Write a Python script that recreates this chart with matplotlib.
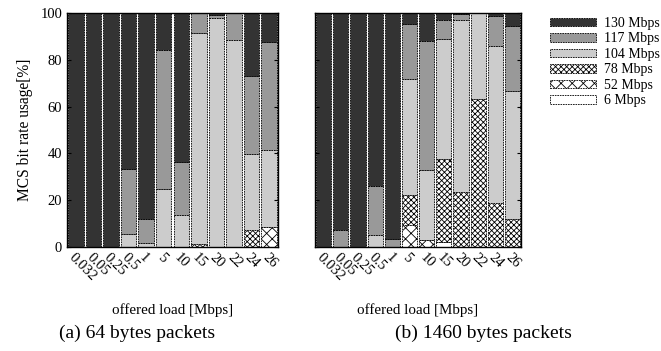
import numpy as np
import matplotlib.pyplot as plt
from matplotlib.patches import Patch

plt.rcParams['font.family'] = ['Liberation Serif', 'DejaVu Serif']
plt.rcParams['hatch.linewidth'] = 0.6

loads = ['0.032', '0.05', '0.25', '0.5', '1', '5', '10', '15', '20', '22', '24', '26']
rates = ['6 Mbps', '52 Mbps', '78 Mbps', '104 Mbps', '117 Mbps', '130 Mbps']

# share of each MCS rate [%], 64 bytes packets
a_6 = [0, 0, 0, 0, 0, 0, 0, 0, 0, 0, 0, 0]
a_52 = [0, 0, 0, 0, 0, 0, 0, 0, 0, 0, 0, 8.4]
a_78 = [0, 0, 0, 0, 0, 0, 0, 1.3, 0, 0, 7.4, 0]
a_104 = [0, 0, 0, 5.4, 1.7, 24.8, 13.8, 90.0, 97.9, 88.6, 32.5, 32.9]
a_117 = [0, 0, 0, 28.1, 10.1, 59.2, 22.4, 8.7, 1.2, 11.4, 33.3, 46.2]

# 1460 bytes packets
b_6 = [0, 0, 0, 0, 0, 0, 0, 2.0, 0, 0, 0, 0]
b_52 = [0, 0, 0, 0, 0, 9.3, 2.8, 0, 0, 0, 0, 0]
b_78 = [0, 0, 0, 0, 0, 13.1, 0, 35.6, 23.4, 63.4, 18.9, 12.0]
b_104 = [0, 0, 0, 5.0, 0, 49.4, 30.2, 51.3, 73.8, 36.6, 66.9, 54.8]
b_117 = [0, 7.4, 0, 20.9, 3.6, 23.5, 54.9, 8.3, 2.5, 0, 12.8, 27.8]

colors = ['white', 'white', 'white', '#cccccc', '#999999', '#333333']
hatches = [None, 'xxx', 'xxxxxx', None, None, None]


def draw(ax, series):
    series = [np.array(s, dtype=float) for s in series]
    series.append(100 - sum(series))  # 130 Mbps takes the rest
    x = np.arange(len(loads))
    bottom = np.zeros(len(loads))
    for s, c, h in zip(series, colors, hatches):
        ax.bar(x, s, 0.88, bottom=bottom, color=c, hatch=h, edgecolor='black',
               linewidth=0.6, linestyle=(0, (2, 1)))
        bottom += s
    ax.set_xlim(-0.5, len(loads) - 0.5)
    ax.set_ylim(0, 100)
    ax.set_xticks(x)
    ax.set_xticklabels(loads, rotation=-45, ha='left', va='top',
                       rotation_mode='anchor', fontsize=10.5)
    ax.tick_params(axis='x', length=0, pad=3)
    ax.tick_params(axis='y', direction='in', right=True, length=3, labelsize=10.5)
    ax.set_yticks([0, 20, 40, 60, 80, 100])
    ax.set_xlabel('offered load [Mbps]', fontsize=10.8, labelpad=14)
    for sp in ax.spines.values():
        sp.set_linewidth(1.0)


fig = plt.figure(figsize=(6.61, 3.51), dpi=100)
ax1 = fig.add_axes([0.1014, 0.2963, 0.319, 0.6667])
ax2 = fig.add_axes([0.4766, 0.2963, 0.3117, 0.6667])

draw(ax1, [a_6, a_52, a_78, a_104, a_117])
draw(ax2, [b_6, b_52, b_78, b_104, b_117])
ax2.set_yticklabels([])
ax1.set_ylabel('MCS bit rate usage[%]', fontsize=11.2, labelpad=5)

fig.text(0.2073, 0.037, '(a) 64 bytes packets', ha='center', fontsize=14)
fig.text(0.7307, 0.037, '(b) 1460 bytes packets', ha='center', fontsize=14)

handles = [Patch(facecolor=c, hatch=h, edgecolor='black', linewidth=0.6,
                 linestyle=(0, (2, 1)))
           for c, h in zip(colors, hatches)][::-1]
fig.legend(handles, rates[::-1], loc='upper left', bbox_to_anchor=(0.824, 0.968),
           frameon=False, fontsize=10, handlelength=3.3, handleheight=0.55,
           labelspacing=0.18, handletextpad=0.55, borderaxespad=0)

fig.savefig('out.png', dpi=100)
